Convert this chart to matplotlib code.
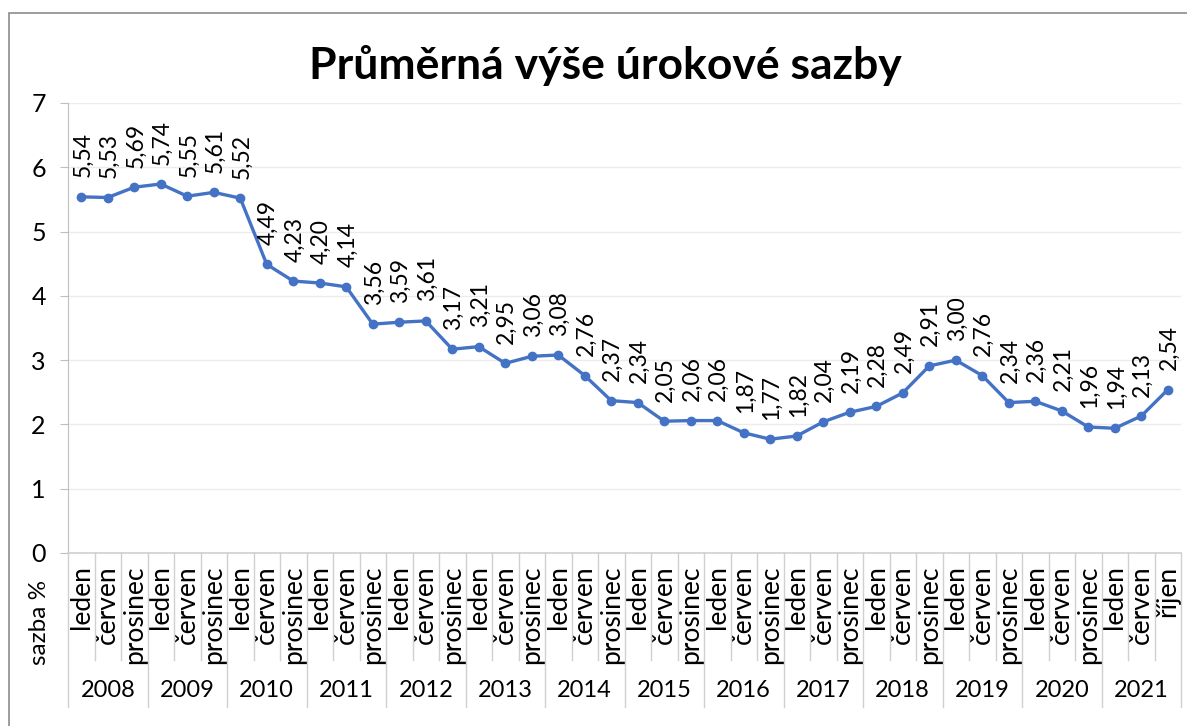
"""Průměrná výše úrokové sazby – line chart with two-level category axis."""
import matplotlib
matplotlib.use("Agg")
import numpy as np
from matplotlib import pyplot as plt
from matplotlib.transforms import blended_transform_factory
from matplotlib.lines import Line2D
from matplotlib.patches import Rectangle

plt.rcParams["font.family"] = ["Lato", "DejaVu Sans"]

years = ["2008", "2009", "2010", "2011", "2012", "2013", "2014",
         "2015", "2016", "2017", "2018", "2019", "2020", "2021"]
months = ["leden", "červen", "prosinec"] * 13 + ["leden", "červen", "říjen"]
rates = [5.54, 5.53, 5.69, 5.74, 5.55, 5.61, 5.52, 4.49, 4.23, 4.20, 4.14,
         3.56, 3.59, 3.61, 3.17, 3.21, 2.95, 3.06, 3.08, 2.76, 2.37, 2.34,
         2.05, 2.06, 2.06, 1.87, 1.77, 1.82, 2.04, 2.19, 2.28, 2.49, 2.91,
         3.00, 2.76, 2.34, 2.36, 2.21, 1.96, 1.94, 2.13, 2.54]

W, H = 1187, 726
fig = plt.figure(figsize=(W / 100, H / 100), dpi=100)
# plot area in pixels: x 68..1181, y 103..553
ax = fig.add_axes([68 / W, (H - 553) / H, (1181 - 68) / W, 450 / H])

# outer chart border
fig.patches.append(Rectangle((9 / W, -0.1), 1.2, (H - 13) / H + 0.1,
                             transform=fig.transFigure, fill=False,
                             edgecolor="#8c8c8c", lw=1.2))

x = np.arange(len(rates))
ax.plot(x, rates, "-o", color="#4472C4", lw=2.4, markersize=6)

for xi, v in zip(x, rates):
    ax.annotate(f"{v:.2f}".replace(".", ","), (xi, v), xytext=(1, 14),
                textcoords="offset points", rotation=90, ha="center",
                va="bottom", fontsize=16.5, color="black")

ax.set_xlim(-0.5, len(rates) - 0.5)
ax.set_ylim(0, 7)
ax.set_yticks(range(8))
ax.tick_params(axis="y", labelsize=18, length=6, width=0.8,
               color="#bfbfbf", pad=10)
ax.grid(axis="y", color="#ececec", lw=1)
ax.set_axisbelow(True)
for s in ("top", "right"):
    ax.spines[s].set_visible(False)
ax.spines["left"].set_color("#bfbfbf")
ax.spines["bottom"].set_color("#d0d0d0")
ax.spines["bottom"].set_linewidth(1.2)

ax.set_xticks(x)
ax.set_xticklabels(months, rotation=90, fontsize=19, va="top", ha="center")
ax.tick_params(axis="x", length=0, pad=9)

# category separators
tr = blended_transform_factory(ax.transData, ax.transAxes)
for i in range(len(rates) + 1):
    bottom = -0.342 if i % 3 == 0 else -0.238
    ax.add_line(Line2D([i - 0.5, i - 0.5], [0, bottom], transform=tr,
                       color="#d0d0d0", lw=1, clip_on=False))
for j, yr in enumerate(years):
    ax.text(3 * j + 1, -0.305, yr, transform=tr, ha="center", va="center",
            fontsize=17)

fig.text(40 / W, (H - 622) / H, "sazba %", rotation=90, ha="center",
         va="center", fontsize=17.5)
fig.text(605 / W, (H - 65) / H, "Průměrná výše úrokové sazby",
         ha="center", va="center", fontsize=32, fontweight="bold")

fig.savefig("out.png", dpi=100)
